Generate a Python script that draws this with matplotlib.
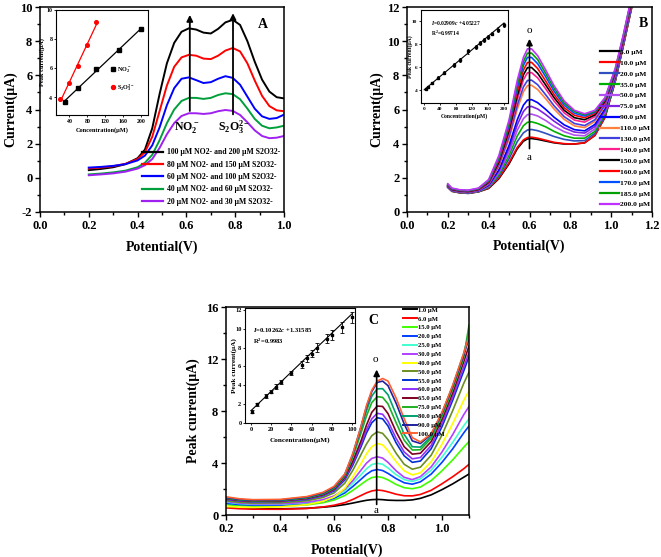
import numpy as np
import matplotlib
matplotlib.use('Agg')
import matplotlib.pyplot as plt
from matplotlib.ticker import MultipleLocator

plt.rcParams['font.family'] = ['Liberation Serif', 'DejaVu Serif']
plt.rcParams['font.weight'] = 'bold'
plt.rcParams['mathtext.fontset'] = 'custom'
plt.rcParams['mathtext.rm'] = 'Liberation Serif:bold'
plt.rcParams['mathtext.it'] = 'Liberation Serif:italic:bold'
plt.rcParams['mathtext.bf'] = 'Liberation Serif:bold'
plt.rcParams['axes.linewidth'] = 1.1
plt.rcParams['axes.unicode_minus'] = False

# ---------------- Panel A data ----------------
xA = [0.20, 0.25, 0.30, 0.35, 0.40, 0.43, 0.46, 0.49, 0.52, 0.55, 0.58, 0.61, 0.64,
      0.67, 0.70, 0.73, 0.76, 0.79, 0.82, 0.85, 0.88, 0.91, 0.94, 0.97, 1.00]
labelsA = ['100 μM NO2- and 200 μM S2O32-', '80 μM NO2- and 150 μM S2O32-',
           '60 μM NO2- and 100 μM S2O32-', '40 μM NO2- and 60 μM S2O32-',
           '20 μM NO2- and 30 μM S2O32-']
colorsA = ['#000000', '#ff0000', '#0000ff', '#009f3c', '#a020f0']
yA_100_200 = [0.45, 0.52, 0.62, 0.80, 1.15, 1.65, 2.90, 4.90, 6.70, 7.90, 8.55, 8.75, 8.68,
              8.50, 8.45, 8.72, 9.10, 9.25, 8.95, 8.00, 6.80, 5.75, 5.05, 4.72, 4.65]
yA_80_150 = [0.55, 0.60, 0.68, 0.82, 1.10, 1.50, 2.40, 3.90, 5.40, 6.50, 7.05, 7.20, 7.15,
             6.98, 6.95, 7.15, 7.45, 7.60, 7.40, 6.70, 5.70, 4.80, 4.20, 3.95, 3.90]
yA_60_100 = [0.60, 0.64, 0.70, 0.80, 1.02, 1.30, 1.90, 2.95, 4.25, 5.25, 5.80, 5.88, 5.72,
             5.55, 5.60, 5.80, 5.95, 5.85, 5.45, 4.75, 4.05, 3.60, 3.45, 3.50, 3.70]
yA_40_60 = [0.20, 0.25, 0.32, 0.42, 0.62, 0.88, 1.35, 2.20, 3.20, 4.00, 4.50, 4.68, 4.68,
            4.62, 4.68, 4.85, 4.95, 4.90, 4.60, 4.05, 3.45, 3.05, 2.90, 2.95, 3.05]
yA_20_30 = [0.15, 0.20, 0.26, 0.36, 0.54, 0.74, 1.10, 1.75, 2.55, 3.20, 3.62, 3.78, 3.78,
            3.74, 3.78, 3.90, 3.97, 3.92, 3.68, 3.25, 2.78, 2.45, 2.32, 2.35, 2.45]
curvesA = [yA_100_200, yA_80_150, yA_60_100, yA_40_60, yA_20_30]

# inset A
concA_no2 = [30, 60, 100, 150, 200]
peakA_no2 = [3.72, 4.66, 5.95, 7.28, 8.70]
concA_s2o3 = [20, 40, 60, 80, 100]
peakA_s2o3 = [3.92, 5.02, 6.15, 7.62, 9.18]

# ---------------- Panel B data ----------------
xB = [0.20, 0.22, 0.26, 0.30, 0.35, 0.40, 0.45, 0.50, 0.54, 0.57, 0.59, 0.61, 0.64,
      0.68, 0.72, 0.77, 0.82, 0.87, 0.92, 0.97, 1.02, 1.06, 1.10]
labelsB = ['5.0 μM', '10.0 μM', '20.0 μM', '35.0 μM', '50.0 μM', '75.0 μM', '90.0 μM',
           '110.0 μM', '130.0 μM', '140.0 μM', '150.0 μM', '160.0 μM', '170.0 μM',
           '185.0 μM', '200.0 μM']
colorsB = ['#000000', '#ff0000', '#3050c0', '#00b000', '#b050f0', '#8020e0', '#0000ff',
           '#ff8040', '#4040e0', '#ff2090', '#000000', '#ff0000', '#0050ff', '#00a000',
           '#c030ff']
curvesB = [
    [1.44, 1.21, 1.12, 1.09, 1.18, 1.38, 1.95, 2.82, 3.70, 4.14, 4.28, 4.30, 4.25, 4.15, 4.05, 3.98, 3.98, 4.05, 4.48, 5.55, 7.65, 9.75, 11.95],
    [1.45, 1.22, 1.13, 1.10, 1.19, 1.40, 2.00, 2.90, 3.78, 4.22, 4.36, 4.38, 4.32, 4.20, 4.08, 4.00, 3.98, 4.05, 4.48, 5.55, 7.65, 9.75, 11.95],
    [1.46, 1.23, 1.14, 1.11, 1.20, 1.44, 2.10, 3.12, 4.12, 4.63, 4.80, 4.83, 4.76, 4.60, 4.42, 4.25, 4.16, 4.18, 4.60, 5.65, 7.70, 9.80, 12.00],
    [1.47, 1.24, 1.15, 1.12, 1.21, 1.47, 2.20, 3.32, 4.45, 5.05, 5.25, 5.28, 5.18, 4.98, 4.72, 4.46, 4.32, 4.32, 4.72, 5.75, 7.75, 9.85, 12.05],
    [1.48, 1.25, 1.16, 1.13, 1.22, 1.50, 2.30, 3.52, 4.78, 5.46, 5.70, 5.73, 5.62, 5.35, 5.02, 4.70, 4.50, 4.46, 4.86, 5.85, 7.80, 9.90, 12.10],
    [1.49, 1.26, 1.17, 1.14, 1.24, 1.54, 2.40, 3.72, 5.10, 5.88, 6.15, 6.18, 6.03, 5.70, 5.32, 4.92, 4.68, 4.62, 5.00, 5.95, 7.85, 9.95, 12.15],
    [1.50, 1.27, 1.18, 1.15, 1.25, 1.57, 2.48, 3.90, 5.40, 6.25, 6.55, 6.58, 6.40, 6.00, 5.55, 5.10, 4.82, 4.75, 5.12, 6.05, 7.90, 10.00, 12.20],
    [1.52, 1.28, 1.19, 1.16, 1.27, 1.63, 2.66, 4.28, 6.02, 7.03, 7.40, 7.42, 7.17, 6.62, 6.03, 5.42, 5.04, 4.94, 5.30, 6.20, 8.00, 10.05, 12.25],
    [1.53, 1.29, 1.20, 1.17, 1.28, 1.66, 2.74, 4.42, 6.25, 7.32, 7.70, 7.72, 7.45, 6.85, 6.22, 5.58, 5.18, 5.06, 5.40, 6.28, 8.05, 10.10, 12.30],
    [1.55, 1.31, 1.22, 1.19, 1.30, 1.70, 2.84, 4.62, 6.58, 7.74, 8.15, 8.16, 7.85, 7.20, 6.50, 5.80, 5.38, 5.26, 5.58, 6.40, 8.15, 10.15, 12.35],
    [1.56, 1.32, 1.23, 1.20, 1.32, 1.74, 2.92, 4.78, 6.80, 8.02, 8.45, 8.46, 8.12, 7.42, 6.70, 5.95, 5.52, 5.40, 5.68, 6.48, 8.20, 10.20, 12.40],
    [1.58, 1.34, 1.25, 1.22, 1.34, 1.78, 3.02, 4.95, 7.05, 8.30, 8.75, 8.76, 8.40, 7.65, 6.88, 6.10, 5.66, 5.52, 5.78, 6.55, 8.25, 10.25, 12.45],
    [1.60, 1.36, 1.26, 1.24, 1.36, 1.82, 3.12, 5.10, 7.30, 8.58, 9.05, 9.05, 8.68, 7.90, 7.08, 6.25, 5.78, 5.62, 5.85, 6.60, 8.30, 10.30, 12.50],
    [1.62, 1.38, 1.28, 1.26, 1.38, 1.85, 3.20, 5.25, 7.50, 8.80, 9.30, 9.30, 8.92, 8.10, 7.25, 6.38, 5.88, 5.70, 5.90, 6.65, 8.35, 10.35, 12.55],
    [1.65, 1.40, 1.30, 1.28, 1.40, 1.90, 3.30, 5.40, 7.70, 9.05, 9.55, 9.55, 9.15, 8.30, 7.40, 6.50, 5.95, 5.75, 5.95, 6.70, 8.40, 10.40, 12.60],
]
# inset B
concB = [5, 10, 20, 35, 50, 75, 90, 110, 130, 140, 150, 160, 170, 185, 200]
peakB = [4.10, 4.30, 4.65, 5.10, 5.55, 6.20, 6.65, 7.40, 7.80, 8.10, 8.40, 8.65, 8.95, 9.30, 9.70]
errB = [0.10, 0.10, 0.10, 0.12, 0.12, 0.15, 0.15, 0.20, 0.18, 0.18, 0.15, 0.15, 0.15, 0.18, 0.20]
slopeB, interceptB = 0.02909, 4.05227

# ---------------- Panel C data ----------------
xC = [0.20, 0.25, 0.30, 0.40, 0.50, 0.56, 0.60, 0.64, 0.67, 0.70, 0.72, 0.74, 0.76,
      0.78, 0.80, 0.83, 0.86, 0.89, 0.92, 0.96, 1.00, 1.04, 1.08, 1.10]
labelsC = ['1.0 μM', '6.0 μM', '15.0 μM', '20.0 μM', '25.0 μM', '30.0 μM', '40.0 μM',
           '50.0 μM', '55.0 μM', '60.0 μM', '65.0 μM', '75.0 μM', '80.0 μM', '90.0 μM',
           '100.0 μM']
colorsC = ['#000000', '#ff0000', '#40ff00', '#0040ff', '#40ffd0', '#b040ff', '#ffff00',
           '#6b8e23', '#0030d0', '#9030ff', '#800020', '#20b020', '#00a070', '#2020a0',
           '#ff6030']
curvesC = [
    [0.62, 0.55, 0.50, 0.47, 0.52, 0.60, 0.68, 0.80, 0.92, 1.05, 1.13, 1.18, 1.20, 1.18, 1.14, 1.12, 1.12, 1.16, 1.28, 1.55, 1.95, 2.40, 2.90, 3.15],
    [0.55, 0.48, 0.45, 0.44, 0.50, 0.62, 0.75, 0.95, 1.20, 1.50, 1.70, 1.85, 1.92, 1.88, 1.78, 1.60, 1.48, 1.47, 1.58, 1.90, 2.40, 2.95, 3.55, 3.90],
    [0.80, 0.72, 0.68, 0.68, 0.78, 0.95, 1.15, 1.50, 1.90, 2.35, 2.65, 2.88, 2.95, 2.88, 2.70, 2.35, 2.10, 2.02, 2.15, 2.65, 3.40, 4.25, 5.20, 5.65],
    [0.90, 0.80, 0.75, 0.75, 0.86, 1.05, 1.28, 1.70, 2.20, 2.75, 3.12, 3.40, 3.50, 3.42, 3.20, 2.80, 2.48, 2.37, 2.55, 3.15, 4.05, 5.10, 6.30, 6.85],
    [1.00, 0.88, 0.82, 0.82, 0.94, 1.12, 1.38, 1.85, 2.45, 3.10, 3.55, 3.88, 3.98, 3.90, 3.62, 3.10, 2.72, 2.58, 2.78, 3.45, 4.45, 5.60, 6.85, 7.40],
    [1.05, 0.92, 0.86, 0.86, 0.98, 1.18, 1.46, 1.98, 2.65, 3.45, 3.98, 4.35, 4.48, 4.38, 4.05, 3.40, 2.90, 2.72, 2.95, 3.70, 4.85, 6.20, 7.70, 8.35],
    [0.65, 0.60, 0.58, 0.62, 0.80, 1.05, 1.38, 2.05, 2.95, 3.95, 4.70, 5.25, 5.50, 5.40, 4.95, 4.10, 3.40, 3.08, 3.25, 4.10, 5.45, 7.05, 8.80, 9.55],
    [1.10, 0.98, 0.92, 0.94, 1.10, 1.35, 1.70, 2.45, 3.45, 4.65, 5.45, 6.10, 6.40, 6.28, 5.80, 4.75, 3.90, 3.52, 3.68, 4.60, 6.15, 8.05, 10.10, 11.00],
    [1.20, 1.08, 1.02, 1.04, 1.20, 1.48, 1.85, 2.70, 3.85, 5.25, 6.30, 7.10, 7.48, 7.40, 6.85, 5.55, 4.55, 4.05, 4.15, 5.10, 6.80, 8.85, 11.05, 12.20],
    [1.22, 1.10, 1.04, 1.06, 1.24, 1.52, 1.92, 2.80, 4.00, 5.45, 6.55, 7.40, 7.82, 7.75, 7.20, 5.90, 4.85, 4.32, 4.42, 5.35, 7.05, 9.10, 11.35, 12.50],
    [1.25, 1.12, 1.06, 1.08, 1.27, 1.56, 1.98, 2.90, 4.15, 5.70, 6.90, 7.90, 8.38, 8.35, 7.80, 6.40, 5.25, 4.68, 4.75, 5.65, 7.35, 9.40, 11.75, 13.00],
    [1.30, 1.16, 1.10, 1.12, 1.32, 1.62, 2.05, 3.00, 4.45, 6.30, 7.60, 8.65, 9.10, 9.05, 8.55, 7.10, 5.75, 5.00, 5.02, 5.90, 7.60, 9.70, 12.05, 14.60],
    [1.32, 1.18, 1.12, 1.14, 1.35, 1.66, 2.10, 3.08, 4.60, 6.60, 8.00, 9.15, 9.70, 9.72, 9.25, 7.75, 6.20, 5.25, 5.22, 6.05, 7.80, 9.95, 12.40, 14.00],
    [1.35, 1.20, 1.14, 1.16, 1.38, 1.70, 2.15, 3.12, 4.70, 6.80, 8.30, 9.50, 10.20, 10.30, 9.95, 8.60, 7.00, 5.70, 5.50, 6.20, 7.85, 9.90, 12.25, 13.60],
    [1.40, 1.25, 1.18, 1.20, 1.42, 1.75, 2.20, 3.15, 4.75, 6.80, 8.40, 9.60, 10.30, 10.50, 10.30, 9.00, 7.40, 5.95, 5.62, 6.25, 7.90, 10.00, 12.40, 13.80],
]
# inset C
concC = [1, 6, 15, 20, 25, 30, 40, 50, 55, 60, 65, 75, 80, 90, 100]
peakC = [1.18, 1.97, 2.90, 3.33, 3.87, 4.34, 5.30, 6.20, 6.85, 7.35, 8.00, 8.96, 9.32, 10.14, 11.20]
errC = [0.15, 0.20, 0.20, 0.20, 0.25, 0.25, 0.25, 0.35, 0.40, 0.40, 0.45, 0.45, 0.50, 0.55, 0.55]
slopeC, interceptC = 0.10262, 1.31585

# ---------------- figure ----------------
W, H = 661, 557
fig = plt.figure(figsize=(W / 100, H / 100), dpi=100)


def px_axes(x0, y0, x1, y1):
    return fig.add_axes([x0 / W, 1 - y1 / H, (x1 - x0) / W, (y1 - y0) / H])


def style_main(ax, fs=9):
    ax.tick_params(which='both', direction='out', labelsize=fs, width=1.0, pad=2)
    ax.tick_params(which='major', length=3.5)
    ax.tick_params(which='minor', length=2)
    for lab in ax.get_xticklabels() + ax.get_yticklabels():
        lab.set_fontweight('bold')


def style_inset(ax, fs=4.2):
    ax.tick_params(which='both', direction='out', labelsize=fs, width=0.6, length=1.6, pad=1)
    for s in ax.spines.values():
        s.set_linewidth(0.8)


# ----- Panel A -----
axA = px_axes(40, 7, 284, 212)
for y, c, lab in zip(curvesA, colorsA, labelsA):
    axA.plot(xA, y, color=c, lw=1.4, label=lab)
axA.set_xlim(0, 1.0)
axA.set_ylim(-2, 10)
axA.xaxis.set_minor_locator(MultipleLocator(0.1))
axA.yaxis.set_major_locator(MultipleLocator(2))
axA.yaxis.set_minor_locator(MultipleLocator(1))
axA.set_xticks([0.0, 0.2, 0.4, 0.6, 0.8, 1.0])
axA.set_xticklabels(['0.0', '0.2', '0.4', '0.6', '0.8', '1.0'])
style_main(axA)
axA.set_xlabel('Potential(V)', fontsize=10, fontweight='bold')
axA.set_ylabel('Current(μA)', fontsize=10, fontweight='bold')
axA.yaxis.set_label_coords(-0.094, 0.5)
axA.xaxis.set_label_coords(0.5, -0.141)
axA.annotate('', xy=(0.614, 9.7), xytext=(0.614, 3.75),
             arrowprops=dict(arrowstyle='-|>', color='black', lw=1.3, mutation_scale=9))
axA.annotate('', xy=(0.791, 9.8), xytext=(0.791, 3.55),
             arrowprops=dict(arrowstyle='-|>', color='black', lw=1.3, mutation_scale=9))
axA.text(0.6, 2.95, r'NO$_2^-$', fontsize=8.5, ha='center', va='center')
axA.text(0.795, 2.95, r'S$_2$O$_3^{2-}$', fontsize=8.5, ha='center', va='center')
axA.text(0.915, 9.0, 'A', fontsize=10, fontweight='bold', ha='center', va='center')
legA = axA.legend(loc='upper left', bbox_to_anchor=(0.42, 0.31), frameon=False,
                  prop={'size': 5.6, 'weight': 'bold'}, handlelength=2.7,
                  handletextpad=0.45, labelspacing=0.55, borderpad=0, borderaxespad=0)
for l in legA.get_lines():
    l.set_linewidth(1.6)

# inset A
iA = px_axes(56, 10, 148, 115)
iA.plot(concA_no2, peakA_no2, 's', color='black', ms=2.6, label=r'NO$_2^-$')
iA.plot(concA_s2o3, peakA_s2o3, 'o', color='red', ms=2.6, label=r'S$_2$O$_3^{2-}$')
pA1 = np.polyfit(concA_no2, peakA_no2, 1)
pA2 = np.polyfit(concA_s2o3, peakA_s2o3, 1)
xa1 = np.array([min(concA_no2), max(concA_no2)])
xa2 = np.array([min(concA_s2o3), max(concA_s2o3)])
iA.plot(xa1, np.polyval(pA1, xa1), color='black', lw=0.9)
iA.plot(xa2, np.polyval(pA2, xa2), color='red', lw=0.9)
iA.set_xlim(10, 215)
iA.set_ylim(2.8, 10)
iA.set_xticks([40, 80, 120, 160, 200])
iA.set_yticks([4, 6, 8, 10])
style_inset(iA)
iA.set_xlabel('Concentration(μM)', fontsize=4.6, fontweight='bold')
iA.set_ylabel('Peak current(μA)', fontsize=4.6, fontweight='bold')
iA.xaxis.set_label_coords(0.5, -0.12)
iA.yaxis.set_label_coords(-0.12, 0.5)
iA.legend(loc='center left', bbox_to_anchor=(0.6, 0.34), frameon=False,
          prop={'size': 4.5, 'weight': 'bold'}, handlelength=0.6, handletextpad=0.4,
          labelspacing=1.2, borderpad=0, borderaxespad=0, markerscale=1.1)

# ----- Panel B -----
axB = px_axes(407, 7, 652, 212)
for y, c, lab in zip(curvesB, colorsB, labelsB):
    axB.plot(xB, y, color=c, lw=1.2, label=lab)
axB.set_xlim(0, 1.2)
axB.set_ylim(0, 12)
axB.set_xticks([0.0, 0.2, 0.4, 0.6, 0.8, 1.0, 1.2])
axB.set_xticklabels(['0.0', '0.2', '0.4', '0.6', '0.8', '1.0', '1.2'])
axB.xaxis.set_minor_locator(MultipleLocator(0.1))
axB.yaxis.set_major_locator(MultipleLocator(2))
axB.yaxis.set_minor_locator(MultipleLocator(1))
style_main(axB)
axB.set_xlabel('Potential(V)', fontsize=10, fontweight='bold')
axB.set_ylabel('Current(μA)', fontsize=10, fontweight='bold')
axB.yaxis.set_label_coords(-0.098, 0.5)
axB.xaxis.set_label_coords(0.5, -0.132)
axB.annotate('', xy=(0.6, 10.3), xytext=(0.6, 3.55),
             arrowprops=dict(arrowstyle='-|>', color='black', lw=1.2, mutation_scale=9))
axB.text(0.6, 10.6, 'o', fontsize=8, fontweight='normal', ha='center', va='center')
axB.text(0.6, 3.2, 'a', fontsize=8, fontweight='normal', ha='center', va='center')
axB.text(1.158, 11.05, 'B', fontsize=10, fontweight='bold', ha='center', va='center')
legB = axB.legend(loc='upper left', bbox_to_anchor=(0.787, 0.797), frameon=False,
                  prop={'size': 5.4, 'weight': 'bold'}, handlelength=2.6,
                  handletextpad=0.1, labelspacing=0.62, borderpad=0, borderaxespad=0)
for l in legB.get_lines():
    l.set_linewidth(1.6)

# inset B
iB = px_axes(421, 10, 508, 103)
xfitB = np.array([0, 200])
iB.plot(xfitB, slopeB * xfitB + interceptB, color='black', lw=0.8)
iB.errorbar(concB, peakB, yerr=errB, fmt='s', color='black', ms=2.0, capsize=1.0,
            elinewidth=0.6, capthick=0.6)
iB.set_xlim(-8, 210)
iB.set_ylim(2.9, 11)
iB.set_xticks([0, 40, 80, 120, 160, 200])
iB.set_yticks([4, 6, 8, 10])
style_inset(iB, fs=3.8)
iB.set_xlabel('Concentration(μM)', fontsize=4.1, fontweight='bold')
iB.set_ylabel('Peak current(μA)', fontsize=4.1, fontweight='bold')
iB.xaxis.set_label_coords(0.5, -0.11)
iB.yaxis.set_label_coords(-0.09, 0.5)
iB.text(0.12, 0.86, r'$I$=0.02909$c$ +4.05227', transform=iB.transAxes, fontsize=4.0,
        ha='left', va='center')
iB.text(0.12, 0.75, r'R$^2$=0.99714', transform=iB.transAxes, fontsize=4.0,
        ha='left', va='center')

# ----- Panel C -----
axC = px_axes(226, 307, 469, 515)
for y, c, lab in zip(curvesC, colorsC, labelsC):
    axC.plot(xC, y, color=c, lw=1.2, label=lab)
axC.set_xlim(0.2, 1.1)
axC.set_ylim(0, 16)
axC.set_xticks([0.2, 0.4, 0.6, 0.8, 1.0])
axC.set_xticklabels(['0.2', '0.4', '0.6', '0.8', '1.0'])
axC.xaxis.set_minor_locator(MultipleLocator(0.1))
axC.yaxis.set_major_locator(MultipleLocator(4))
axC.yaxis.set_minor_locator(MultipleLocator(2))
style_main(axC)
axC.set_xlabel('Potential(V)', fontsize=10, fontweight='bold')
axC.set_ylabel('Peak current(μA)', fontsize=10, fontweight='bold')
axC.yaxis.set_label_coords(-0.107, 0.5)
axC.xaxis.set_label_coords(0.5, -0.135)
axC.annotate('', xy=(0.758, 11.4), xytext=(0.758, 0.6),
             arrowprops=dict(arrowstyle='-|>', color='black', lw=1.2, mutation_scale=9))
axC.text(0.754, 12.0, 'o', fontsize=8, fontweight='normal', ha='center', va='center')
axC.text(0.757, 0.38, 'a', fontsize=8, fontweight='normal', ha='center', va='center')
axC.text(0.745, 14.95, 'C', fontsize=10, fontweight='bold', ha='center', va='center')
legC = axC.legend(loc='upper left', bbox_to_anchor=(0.73, 1.0), frameon=False,
                  prop={'size': 4.8, 'weight': 'bold'}, handlelength=2.1,
                  handletextpad=0.15, labelspacing=0.48, borderpad=0, borderaxespad=0)
for l in legC.get_lines():
    l.set_linewidth(1.4)

# inset C
iC = px_axes(245, 308, 355, 423)
xfitC = np.array([0, 100])
iC.plot(xfitC, slopeC * xfitC + interceptC, color='black', lw=0.8)
iC.errorbar(concC, peakC, yerr=errC, fmt='s', color='black', ms=2.0, capsize=1.2,
            elinewidth=0.6, capthick=0.6)
iC.set_xlim(-6, 103)
iC.set_ylim(0, 12.2)
iC.set_xticks([0, 20, 40, 60, 80, 100])
iC.set_yticks([0, 2, 4, 6, 8, 10, 12])
style_inset(iC, fs=4.6)
iC.set_xlabel('Concentration(μM)', fontsize=5.2, fontweight='bold')
iC.set_ylabel('Peak current(μA)', fontsize=5.2, fontweight='bold')
iC.xaxis.set_label_coords(0.5, -0.12)
iC.yaxis.set_label_coords(-0.075, 0.5)
iC.text(0.07, 0.81, r'$I$=0.10262$c$ +1.31585', transform=iC.transAxes, fontsize=4.8,
        ha='left', va='center')
iC.text(0.07, 0.71, r'R$^2$=0.9983', transform=iC.transAxes, fontsize=4.8,
        ha='left', va='center')

fig.savefig('out.png', dpi=100)
